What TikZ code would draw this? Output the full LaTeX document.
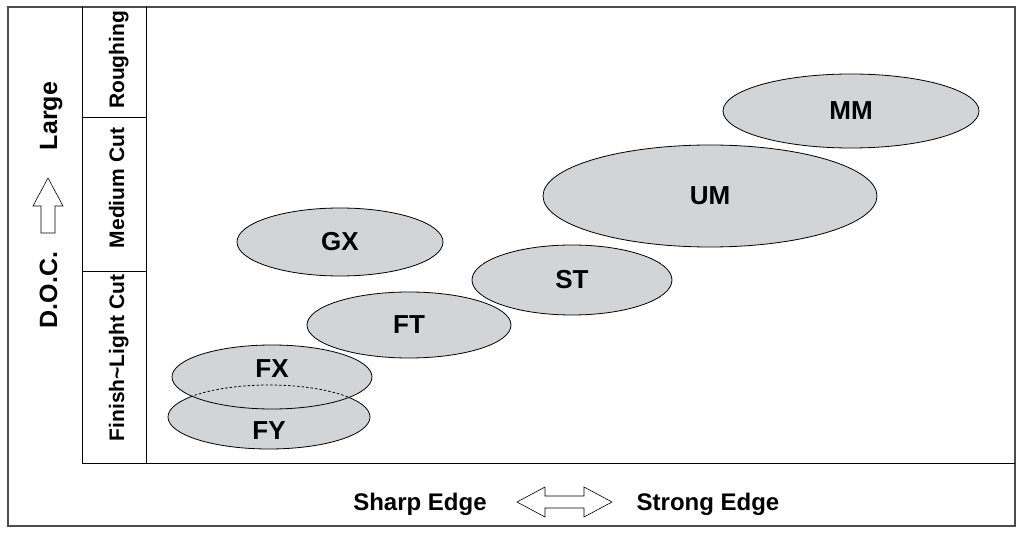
\documentclass[tikz,border=0pt]{standalone}
\usepackage{fontspec}
\setmainfont{Liberation Sans}
\usetikzlibrary{shapes.geometric}
\definecolor{ovalgray}{RGB}{211,212,214}
\tikzstyle{grade}=[ellipse, draw, line width=0.8pt, fill=ovalgray, inner sep=0pt, font=\fontsize{26}{26}\selectfont\bfseries]
\newcommand{\grade}{\node[grade]}
\tikzstyle{rowlabel}=[rotate=90, anchor=base, inner sep=0pt, font=\fontsize{21}{21}\selectfont\bfseries]
\tikzstyle{axislabel}=[anchor=base, inner sep=0pt, font=\fontsize{24}{24}\selectfont\bfseries]
\tikzstyle{hollow}=[draw, line width=0.6pt, fill=white]

\begin{document}
\begin{tikzpicture}[x=1pt, y=-1pt]
\useasboundingbox (0,0) rectangle (1023,534);
\draw[line width=1.4pt, black!70] (8,7) rectangle (1015,526);

% chart frame and depth-of-cut rows
\draw[line width=0.8pt] (82,7) -- (82,463) -- (1015,463);
\draw[line width=0.8pt] (146,7) -- (146,463);
\draw[line width=0.8pt] (82,117) -- (146,117) (82,271) -- (146,271);
\node[rowlabel] (rough) at (124,60) {Roughing};
\node[rowlabel] (medium) at (124,188) {Medium Cut};
\node[rowlabel] (finish) at (124,358) {Finish\textasciitilde Light Cut};

% vertical axis
\node[rowlabel, font=\fontsize{25}{25}\selectfont\bfseries] (large) at (57,116) {Large};
\node[rowlabel, font=\fontsize{25}{25}\selectfont\bfseries] (doc) at (57,290) {D.O.C.};
\draw[hollow] (41,233) -- (41,206) -- (33,206) -- (48,178) -- (63,206) -- (55,206) -- (55,233) -- cycle;

% horizontal axis
\node[axislabel] (sharp) at (420,510) {Sharp Edge};
\node[axislabel] (strong) at (708,510) {Strong Edge};
\draw[hollow] (517,502) -- (545,487) -- (545,496) -- (584,496) -- (584,487) -- (612,502)
  -- (584,517) -- (584,508) -- (545,508) -- (545,517) -- cycle;

% grades
\foreach \name/\x/\y/\w/\h in {MM/851/111/256/74, UM/710/196/334/102, GX/340/242/206/68,
  ST/572/280/200/70, FT/409/325/204/66}{
  \grade (\name) at (\x,\y) [minimum width=\w pt, minimum height=\h pt] {\name};
}
\grade (FY) at (269,417) [minimum width=202pt, minimum height=64pt] {};
\grade (FX) at (272,377) [minimum width=200pt, minimum height=64pt] {};
\begin{scope}
\clip (FX.center) ellipse [x radius=100pt, y radius=32pt];
\draw[line width=0.8pt, dash pattern=on 2.5pt off 2pt] (FY.center) ellipse [x radius=101pt, y radius=32pt];
\end{scope}
\node[font=\fontsize{26}{26}\selectfont\bfseries] (fxname) at ([yshift=8pt]FX.center) {FX};
\node[font=\fontsize{26}{26}\selectfont\bfseries] (fyname) at ([yshift=-14pt]FY.center) {FY};
\end{tikzpicture}
\end{document}
